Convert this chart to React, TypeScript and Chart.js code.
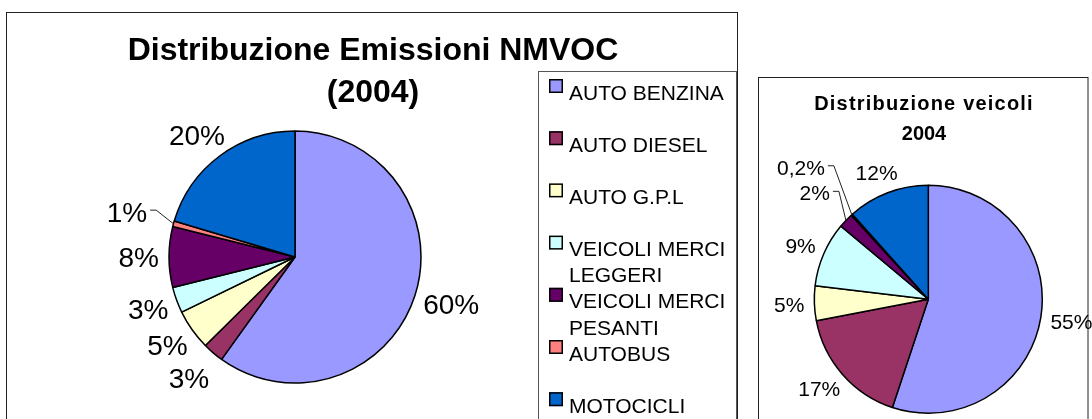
import React, { useEffect, useRef } from 'react';
import { Chart, registerables } from 'chart.js';

Chart.register(...registerables);

const FONT = '"Liberation Sans", Arial, Helvetica, sans-serif';

// ---- data ----
const categories = [
  'AUTO BENZINA',
  'AUTO DIESEL',
  'AUTO G.P.L',
  'VEICOLI MERCI LEGGERI',
  'VEICOLI MERCI PESANTI',
  'AUTOBUS',
  'MOTOCICLI',
];
const emissioniValues = [59.9, 2.7, 5.2, 3.3, 7.8, 0.7, 20.4];
const veicoliValues = [55.1, 16.9, 4.9, 9.2, 2.1, 0.2, 11.6];
const sliceColors = ['#9999FF', '#993366', '#FFFFCC', '#CCFFFF', '#660066', '#FF8080', '#0066CC'];
const emissioniTitle = ['Distribuzione Emissioni NMVOC', '(2004)'];
const veicoliTitle = ['Distribuzione veicoli', '2004'];

function formatPct(v: number, total: number): string {
  const p = (v / total) * 100;
  const r = Math.round(p);
  if (r === 0) return p.toFixed(1).replace('.', ',') + '%';
  return r + '%';
}

function wrapText(ctx: CanvasRenderingContext2D, text: string, maxWidth: number): string[] {
  const words = text.split(' ');
  const lines: string[] = [];
  let cur = '';
  for (const w of words) {
    const t = cur ? cur + ' ' + w : w;
    if (cur && ctx.measureText(t).width > maxWidth) {
      lines.push(cur);
      cur = w;
    } else cur = t;
  }
  if (cur) lines.push(cur);
  return lines;
}

const decorPlugin = {
  id: 'decor',
  afterDraw(chart: any, _args: any, o: any) {
    const ctx: CanvasRenderingContext2D = chart.ctx;
    ctx.save();

    // frames
    for (const f of o.frames) {
      ctx.strokeStyle = f.color;
      ctx.lineWidth = 1;
      ctx.strokeRect(f.x, f.y, f.w, f.h);
    }

    // title
    const T = o.title;
    ctx.fillStyle = '#000';
    ctx.textAlign = 'center';
    ctx.textBaseline = 'alphabetic';
    ctx.font = `bold ${T.size}px ${FONT}`;
    T.lines.forEach((ln: string, k: number) => {
      (ctx as any).letterSpacing = k === 0 ? `${T.spacing}px` : '0px';
      ctx.fillText(ln, T.x, T.baseline + k * T.lineGap);
    });
    (ctx as any).letterSpacing = '0px';

    // data labels
    const L = o.labels;
    const meta = chart.getDatasetMeta(0);
    const data: number[] = chart.data.datasets[0].data;
    const total = data.reduce((a, b) => a + b, 0);
    ctx.font = `${L.size}px ${FONT}`;
    const capH = L.size * 0.716;
    const items = meta.data.map((arc: any, i: number) => {
      const p = arc.getProps(['x', 'y', 'startAngle', 'endAngle', 'outerRadius'], true);
      const mid = (p.startAngle + p.endAngle) / 2;
      const pct = (data[i] / total) * 100;
      const text = formatPct(data[i], total);
      const small = pct < L.leaderBelow;
      return {
        p,
        ux: Math.cos(mid),
        uy: Math.sin(mid),
        pct,
        text,
        w: ctx.measureText(text).width,
        dist: p.outerRadius + L.gap + (small ? L.leaderExtra : 0),
        leader: small,
        cx: 0,
        cy: 0,
        box: null as any,
      };
    });
    const placed: any[] = [];
    const order = [...items].sort((a, b) => b.pct - a.pct);
    for (const it of order) {
      const start = it.dist;
      let guard = 0;
      while (true) {
        it.cx = it.p.x + it.dist * it.ux + (it.w / 2) * it.ux;
        it.cy = it.p.y + it.dist * it.uy + L.halfH * it.uy;
        const box = {
          l: it.cx - it.w / 2 - L.pad,
          r: it.cx + it.w / 2 + L.pad,
          t: it.cy - capH / 2 - L.pad,
          b: it.cy + capH / 2 + L.pad,
        };
        const hit = placed.some((q) => box.l < q.r && box.r > q.l && box.t < q.b && box.b > q.t);
        if (!hit || guard++ > 300) {
          it.box = box;
          break;
        }
        it.dist += 1;
      }
      if (it.dist - start > 12) it.leader = true;
      placed.push(it.box);
    }
    ctx.fillStyle = '#000';
    ctx.textAlign = 'center';
    for (const it of items) {
      ctx.fillText(it.text, it.cx, it.cy + capH / 2);
      if (it.leader) {
        const ax = it.p.x + it.p.outerRadius * it.ux;
        const ay = it.p.y + it.p.outerRadius * it.uy;
        let sx, sy, kx, ky;
        if (Math.abs(it.ux) >= 0.35) {
          const s = Math.sign(it.ux);
          sx = it.cx - s * (it.w / 2 + 3);
          sy = it.cy - capH * 0.1;
          kx = sx - s * 6;
          ky = sy;
        } else {
          const s = Math.sign(it.uy);
          sx = it.cx;
          sy = it.cy - s * (capH / 2 + 4);
          kx = sx;
          ky = sy - s * 5;
        }
        ctx.strokeStyle = '#222';
        ctx.lineWidth = 1;
        ctx.beginPath();
        ctx.moveTo(sx, sy);
        ctx.lineTo(kx, ky);
        ctx.lineTo(ax, ay);
        ctx.stroke();
      }
    }

    // legend
    const G = o.legend;
    if (G) {
      ctx.font = `${G.size}px ${FONT}`;
      ctx.textAlign = 'left';
      const colors: string[] = chart.data.datasets[0].backgroundColor;
      (chart.data.labels as string[]).forEach((lab, i) => {
        const top = G.y + i * G.pitch;
        ctx.fillStyle = colors[i];
        ctx.fillRect(G.x, top, G.box, G.box);
        ctx.strokeStyle = '#000';
        ctx.lineWidth = 1.5;
        ctx.strokeRect(G.x + 0.75, top + 0.75, G.box - 1.5, G.box - 1.5);
        ctx.fillStyle = '#000';
        const lines = wrapText(ctx, lab, G.wrapWidth);
        lines.forEach((ln, k) => ctx.fillText(ln, G.textX, top + G.firstBaseline + k * G.lineGap, G.maxWidth));
      });
    }
    ctx.restore();
  },
};

function makeChart(canvas: HTMLCanvasElement, values: number[], radius: number, padding: any, decor: any) {
  return new Chart(canvas, {
    type: 'pie',
    data: {
      labels: categories,
      datasets: [
        {
          data: values,
          backgroundColor: sliceColors,
          borderColor: '#000',
          borderWidth: 1.5,
        },
      ],
    },
    options: {
      responsive: false,
      animation: false,
      devicePixelRatio: 1,
      radius,
      events: [],
      layout: { padding },
      plugins: {
        legend: { display: false },
        tooltip: { enabled: false },
        title: { display: false },
        decor,
      },
    } as any,
    plugins: [decorPlugin as any],
  });
}

export default function App() {
  const leftRef = useRef<HTMLCanvasElement>(null);
  const rightRef = useRef<HTMLCanvasElement>(null);

  useEffect(() => {
    Chart.defaults.font.family = FONT;
    const left = makeChart(
      leftRef.current!,
      emissioniValues,
      126,
      { left: 0, right: 502, top: 95, bottom: 0 },
      {
        frames: [
          { x: 6.5, y: 12.5, w: 731, h: 500, color: '#222' },
          { x: 538.5, y: 71.5, w: 198, h: 500, color: '#555' },
        ],
        title: { lines: emissioniTitle, size: 32, x: 373, baseline: 59.5, lineGap: 42.5, spacing: 0 },
        labels: { size: 28, gap: 10, halfH: 16, pad: 6.5, leaderBelow: 2.5, leaderExtra: 18 },
        legend: {
          x: 549,
          y: 79,
          box: 14,
          pitch: 52.2,
          size: 21,
          textX: 569,
          firstBaseline: 20.5,
          lineGap: 26.2,
          wrapWidth: 200,
          maxWidth: 162,
        },
      }
    );
    const right = makeChart(
      rightRef.current!,
      veicoliValues,
      114,
      { left: 764.6, right: 0, top: 179.6, bottom: 0 },
      {
        frames: [{ x: 758.5, y: 77.5, w: 329.5, h: 500, color: '#222' }],
        title: { lines: veicoliTitle, size: 20, x: 924, baseline: 110, lineGap: 30, spacing: 1.2 },
        labels: { size: 21, gap: 10, halfH: 12, pad: 5, leaderBelow: 2.5, leaderExtra: 18 },
        legend: null,
      }
    );
    return () => {
      left.destroy();
      right.destroy();
    };
  }, []);

  return (
    <div style={{ position: 'absolute', left: 0, top: 0, width: 1092, height: 419, overflow: 'hidden', background: '#fff' }}>
      <canvas ref={leftRef} width={1092} height={419} style={{ position: 'absolute', left: 0, top: 0, display: 'block' }} />
      <canvas ref={rightRef} width={1092} height={419} style={{ position: 'absolute', left: 0, top: 0, display: 'block' }} />
    </div>
  );
}
